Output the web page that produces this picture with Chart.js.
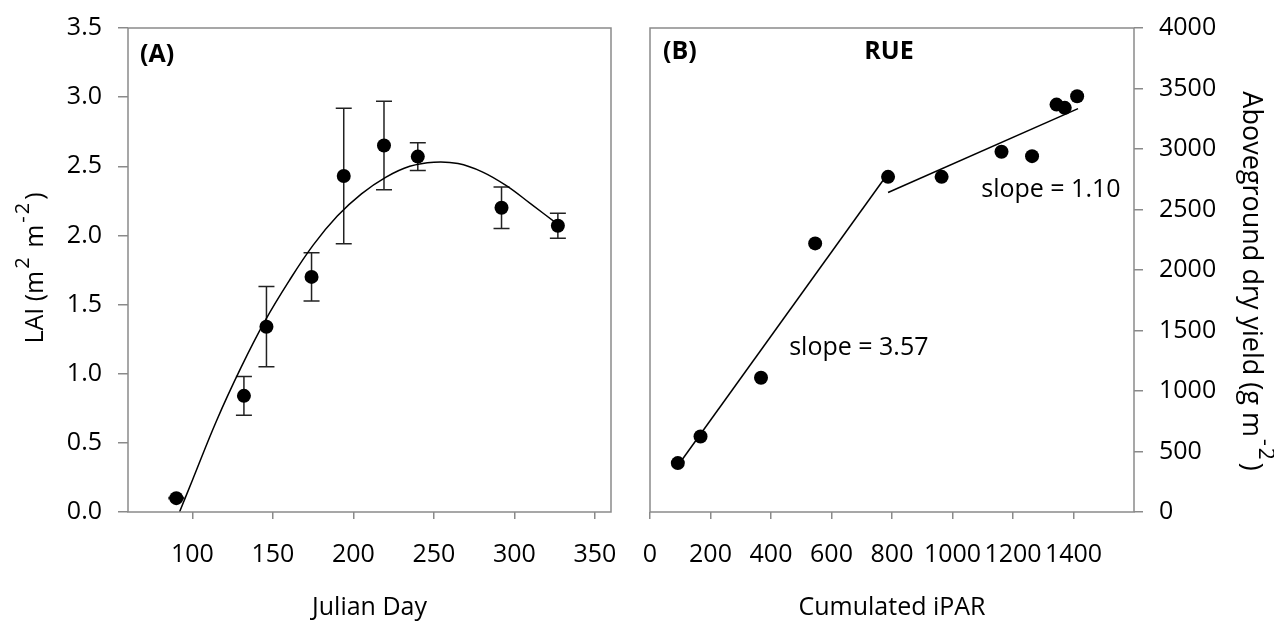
<!DOCTYPE html>
<html>
<head>
<meta charset="utf-8">
<script src="https://cdn.jsdelivr.net/npm/chart.js@4.4.1/dist/chart.umd.min.js"></script>
<style>
html, body { margin: 0; padding: 0; background: #fff; }
#wrap { position: relative; width: 1274px; height: 623px; }
.panel { position: absolute; top: 0; width: 637px; height: 623px; }
#pa { left: 0; }
#pb { left: 637px; }
</style>
</head>
<body>
<div id="wrap">
  <div class="panel" id="pa"><canvas id="chartA" width="637" height="623"></canvas></div>
  <div class="panel" id="pb"><canvas id="chartB" width="637" height="623"></canvas></div>
</div>
<script>
// (A) LAI vs Julian day, mean +/- error
const julianDay = [90, 132, 146, 174, 194, 219, 240, 292, 327];
const laiMean = [0.10, 0.84, 1.34, 1.70, 2.43, 2.65, 2.57, 2.20, 2.07];
const laiErr = [0.005, 0.14, 0.29, 0.175, 0.49, 0.32, 0.10, 0.15, 0.09];

// fitted curve
const fitDay = [92, 100, 115, 130, 145, 160, 175, 190, 205, 220, 235, 250, 265, 280, 295, 310, 327];
const fitLai = [0.00, 0.23, 0.66, 1.04, 1.38, 1.67, 1.93, 2.14, 2.30, 2.42, 2.50, 2.53, 2.52, 2.46, 2.36, 2.23, 2.08];

const dayTicks = [100, 150, 200, 250, 300, 350];

// (B) RUE: yield vs cumulated iPAR
const iparX = [92, 167, 367, 546, 787, 964, 1162, 1263, 1344, 1371, 1412];
const yieldY = [404, 624, 1109, 2220, 2770, 2770, 2977, 2941, 3367, 3340, 3436];

const seg1X = [106, 776];
const seg1Y = [432, 2760];
const seg2X = [787, 1415];
const seg2Y = [2641, 3334];

const iparTicks = [0, 200, 400, 600, 800, 1000, 1200, 1400];

const FONT = "'Open Sans', sans-serif";
const FS = 25;
const AXIS_GREY = '#8a8a8a';

Chart.defaults.font.family = FONT;
Chart.defaults.font.size = FS;
Chart.defaults.color = '#000';

function pts(xs, ys) {
  return xs.map((x, i) => ({x: x, y: ys[i]}));
}

// rotated axis title with superscripts
function drawRich(ctx, parts, size, cx, cy, angle) {
  ctx.save();
  ctx.translate(cx, cy);
  ctx.rotate(angle);
  ctx.textBaseline = 'middle';
  ctx.textAlign = 'left';
  ctx.fillStyle = '#000';
  const big = size + 'px ' + FONT;
  const small = Math.round(size * 0.78) + 'px ' + FONT;
  let total = 0;
  parts.forEach(p => {
    if (p.gap) { p.w = p.gap; } else {
      ctx.font = p.sup ? small : big;
      p.w = ctx.measureText(p.t).width;
    }
    total += p.w;
  });
  let x = -total / 2;
  parts.forEach(p => {
    if (!p.gap) {
      ctx.font = p.sup ? small : big;
      ctx.fillText(p.t, x, p.sup ? -size * 0.5 : 0);
    }
    x += p.w;
  });
  ctx.restore();
}

function label(ctx, text, x, y, bold, align) {
  ctx.save();
  ctx.font = (bold ? 'bold ' : '') + FS + 'px ' + FONT;
  ctx.fillStyle = '#000';
  ctx.textBaseline = 'middle';
  ctx.textAlign = align || 'left';
  ctx.fillText(text, x, y);
  ctx.restore();
}

const framePlugin = {
  id: 'frame',
  afterDraw(chart) {
    const {ctx, chartArea: a} = chart;
    ctx.save();
    ctx.strokeStyle = AXIS_GREY;
    ctx.lineWidth = 1.5;
    ctx.strokeRect(a.left, a.top, a.right - a.left, a.bottom - a.top);
    ctx.restore();
  }
};

const errorBars = {
  id: 'errorBars',
  beforeDatasetsDraw(chart) {
    const {ctx, scales: {x, y}} = chart;
    ctx.save();
    ctx.strokeStyle = '#222';
    ctx.lineWidth = 1.5;
    julianDay.forEach((d, i) => {
      const px = x.getPixelForValue(d);
      const top = y.getPixelForValue(laiMean[i] + laiErr[i]);
      const bot = y.getPixelForValue(laiMean[i] - laiErr[i]);
      ctx.beginPath();
      ctx.moveTo(px, top); ctx.lineTo(px, bot);
      ctx.moveTo(px - 8, top); ctx.lineTo(px + 8, top);
      ctx.moveTo(px - 8, bot); ctx.lineTo(px + 8, bot);
      ctx.stroke();
    });
    ctx.restore();
  }
};

const notesA = {
  id: 'notesA',
  afterDraw(chart) {
    const {ctx, chartArea: a} = chart;
    label(ctx, '(A)', a.left + 12, a.top + 27, true);
    drawRich(ctx, [
      {t: 'LAI (m'}, {gap: 2}, {t: '2', sup: true}, {gap: 3}, {t: ' m'}, {gap: 2},
      {t: '-', sup: true}, {gap: 2}, {t: '2', sup: true}, {gap: 3}, {t: ')'}
    ], 25, 36, 268, -Math.PI / 2);
  }
};

const notesB = {
  id: 'notesB',
  afterDraw(chart) {
    const {ctx, chartArea: a, scales: {x, y}} = chart;
    label(ctx, '(B)', a.left + 13, a.top + 24, true);
    label(ctx, 'RUE', x.getPixelForValue(790), a.top + 24, true, 'center');
    label(ctx, 'slope = 3.57', x.getPixelForValue(460), y.getPixelForValue(1360));
    label(ctx, 'slope = 1.10', x.getPixelForValue(1095), y.getPixelForValue(2660));
    drawRich(ctx, [
      {t: 'Aboveground dry yield (g m'}, {gap: 2}, {t: '-', sup: true}, {gap: 2},
      {t: '2', sup: true}, {gap: 3}, {t: ')'}
    ], 27, 614, 281, Math.PI / 2);
  }
};

function tickGrid(len) {
  return {drawOnChartArea: false, drawTicks: true, tickLength: len, color: AXIS_GREY, lineWidth: 1.5};
}

const plain = v => String(v);

new Chart(document.getElementById('chartA').getContext('2d'), {
  type: 'scatter',
  data: {
    datasets: [{
      label: 'LAI',
      data: pts(julianDay, laiMean),
      pointRadius: 7,
      pointBackgroundColor: '#000',
      pointBorderWidth: 0
    }, {
      label: 'fit',
      data: pts(fitDay, fitLai),
      showLine: true,
      pointRadius: 0,
      borderColor: '#000',
      borderWidth: 1.5,
      tension: 0.4
    }]
  },
  options: {
    responsive: false,
    animation: false,
    events: [],
    layout: {padding: {top: 28, right: 26, left: 0, bottom: 0}, autoPadding: false},
    plugins: {legend: {display: false}, tooltip: {enabled: false}},
    scales: {
      x: {
        type: 'linear',
        min: 60,
        max: 360,
        afterBuildTicks: s => { s.ticks = dayTicks.map(v => ({value: v})); },
        afterFit: s => { s.height = 111; s.paddingLeft = 0; s.paddingRight = 0; },
        ticks: {padding: 21, maxRotation: 0, minRotation: 0, autoSkip: false, callback: plain},
        grid: tickGrid(7),
        border: {display: false},
        title: {display: true, text: 'Julian Day', padding: {top: 0, bottom: 0}}
      },
      y: {
        min: 0,
        max: 3.5,
        afterFit: s => { s.width = 128; s.paddingTop = 0; s.paddingBottom = 0; },
        ticks: {stepSize: 0.5, padding: 16, callback: v => v.toFixed(1)},
        grid: tickGrid(10),
        border: {display: false}
      }
    }
  },
  plugins: [errorBars, framePlugin, notesA]
});

new Chart(document.getElementById('chartB').getContext('2d'), {
  type: 'scatter',
  data: {
    datasets: [{
      label: 'Yield',
      data: pts(iparX, yieldY),
      pointRadius: 7,
      pointBackgroundColor: '#000',
      pointBorderWidth: 0
    }, {
      label: 'slope 3.57',
      data: pts(seg1X, seg1Y),
      showLine: true,
      pointRadius: 0,
      borderColor: '#000',
      borderWidth: 1.5
    }, {
      label: 'slope 1.10',
      data: pts(seg2X, seg2Y),
      showLine: true,
      pointRadius: 0,
      borderColor: '#000',
      borderWidth: 1.5
    }]
  },
  options: {
    responsive: false,
    animation: false,
    events: [],
    layout: {padding: {top: 28, right: 0, left: 13, bottom: 0}, autoPadding: false},
    plugins: {legend: {display: false}, tooltip: {enabled: false}},
    scales: {
      x: {
        type: 'linear',
        min: 0,
        max: 1600,
        afterBuildTicks: s => { s.ticks = iparTicks.map(v => ({value: v})); },
        afterFit: s => { s.height = 111; s.paddingLeft = 0; s.paddingRight = 0; },
        ticks: {padding: 21, maxRotation: 0, minRotation: 0, autoSkip: false, callback: plain},
        grid: tickGrid(7),
        border: {display: false},
        title: {display: true, text: 'Cumulated iPAR', padding: {top: 0, bottom: 0}}
      },
      y: {
        position: 'right',
        min: 0,
        max: 4000,
        afterFit: s => { s.width = 140; s.paddingTop = 0; s.paddingBottom = 0; },
        ticks: {stepSize: 500, padding: 16, callback: plain},
        grid: tickGrid(9),
        border: {display: false}
      }
    }
  },
  plugins: [framePlugin, notesB]
});
</script>
</body>
</html>
